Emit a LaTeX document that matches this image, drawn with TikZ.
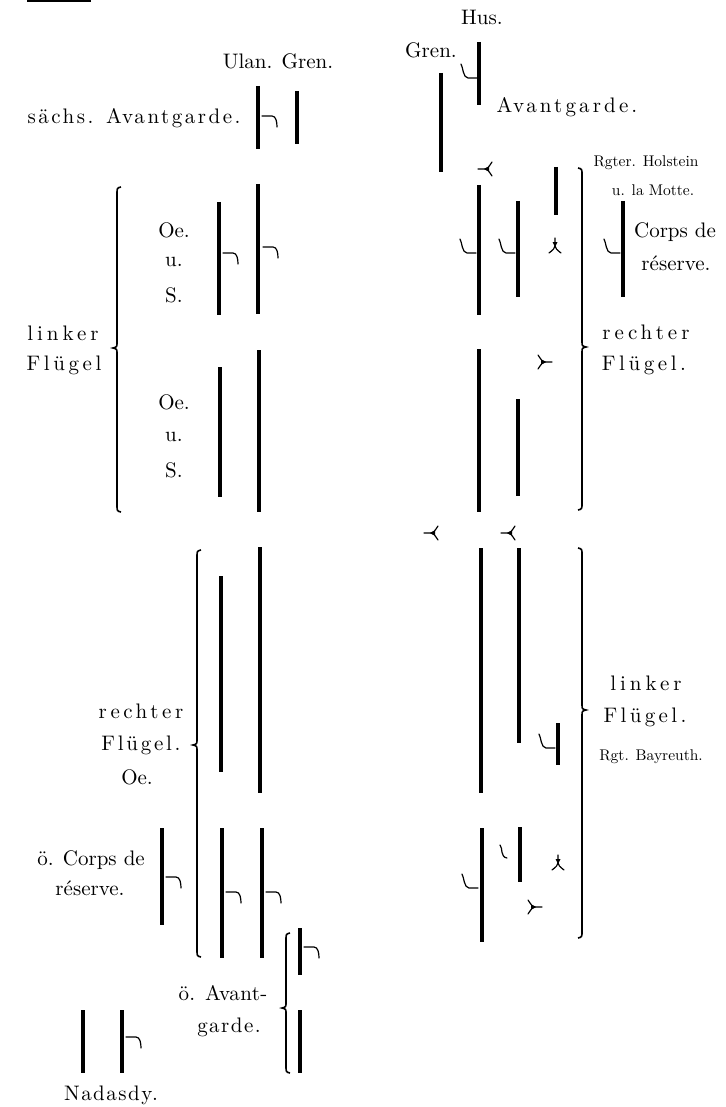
\documentclass[tikz,border=0pt]{standalone}
\usepackage{fontspec}
\setmainfont{lmroman10-regular.otf}
% letter-spaced text: #1 = extra spacing (1/100 em), #2 = text
\newcommand{\spaced}[2]{{\addfontfeature{LetterSpace=#1}#2}}
% a body of troops: vertical bar at x=#1 from y=#2 to y=#3
\newcommand{\troop}[3]{\draw[unitbar] (#1,#2) -- (#1,#3);}
% cavalry hook to the right of a bar, starting at (#1,#2)
\newcommand{\hookR}[2]{\draw[hookline] (#1,#2) -- ++(10,0) .. controls +(4,0) and +(0,-5) .. ++(5,11);}
% cavalry hook to the left of a bar, ending at (#1,#2)
\newcommand{\hookL}[2]{\draw[hookline] (#1-16,#2-14) .. controls +(2,3) and +(-5,0) .. (#1-9,#2) -- (#1,#2);}
% fletch marks, vertex at (#1,#2)
\newcommand{\fletchL}[2]{%
  \draw[hookline] (#1-7,#2) -- (#1,#2) .. controls (#1+3,#2-1) .. (#1+7,#2-7);
  \draw[hookline] (#1,#2) .. controls (#1+3,#2+1) .. (#1+7,#2+7);
  \fill (#1-1,#2) -- (#1+4,#2-2.5) -- (#1+4,#2+2.5) -- cycle;}
\newcommand{\fletchR}[2]{%
  \draw[hookline] (#1+7,#2) -- (#1,#2) .. controls (#1-3,#2-1) .. (#1-7,#2-7);
  \draw[hookline] (#1,#2) .. controls (#1-3,#2+1) .. (#1-7,#2+7);
  \fill (#1+1,#2) -- (#1-4,#2-2.5) -- (#1-4,#2+2.5) -- cycle;}
\newcommand{\fletchU}[2]{%
  \draw[hookline] (#1,#2-8) -- (#1,#2) .. controls (#1-1,#2+3) .. (#1-6,#2+7);
  \draw[hookline] (#1,#2) .. controls (#1+1,#2+3) .. (#1+6,#2+7);
  \fill (#1,#2+1) -- (#1-2.5,#2-4) -- (#1+2.5,#2-4) -- cycle;}
% braces: x, top, tip, bottom
\newcommand{\braceL}[4]{\draw[bracket] (#1+4,#2) .. controls (#1,#2+1) .. (#1,#2+7) -- (#1,#3-6)
  .. controls (#1,#3-1) .. (#1-4,#3) .. controls (#1,#3+1) .. (#1,#3+6) -- (#1,#4-7)
  .. controls (#1,#4-1) .. (#1+4,#4);}
\newcommand{\braceR}[4]{\draw[bracket] (#1-4,#2) .. controls (#1,#2+1) .. (#1,#2+7) -- (#1,#3-6)
  .. controls (#1,#3-1) .. (#1+4,#3) .. controls (#1,#3+1) .. (#1,#3+6) -- (#1,#4-7)
  .. controls (#1,#4-1) .. (#1-4,#4);}

\begin{document}
\begin{tikzpicture}[x=1pt,y=-1pt,
  unitbar/.style={line width=3.2pt, line cap=butt},
  bracket/.style={line width=1.6pt},
  hookline/.style={line width=1.2pt, line cap=round},
  lab/.style={inner sep=0pt, font=\fontsize{21}{24}\selectfont},
  slab/.style={inner sep=0pt, font=\fontsize{21}{24}\selectfont},
  small/.style={inner sep=0pt, font=\fontsize{15.5}{18}\selectfont}]
\useasboundingbox (0,0) rectangle (725,1107);
\fill (27,0) rectangle (91,2.5);

% ---------------- Saxon / Prussian side, upper part ----------------
\node[lab] (ulan) at (278,61) {Ulan. Gren.};
\node[slab] (saechs) at (134,118) {\spaced{12}{sächs. Avantgarde.}};
\troop{258}{86}{149} \troop{297}{91}{144}
\hookR{262}{116}

\node[lab] (hus) at (482,17) {Hus.};
\node[lab] (gren) at (431,50) {Gren.};
\node[slab] (avg) at (567,107) {\spaced{15}{Avantgarde.}};
\troop{479}{42}{105} \troop{441}{73}{172}
\hookL{477}{78}

\node[small] (holst) at (646,163) {Rgter. Holstein};
\node[small] (motte) at (653,190) {u. la Motte.};
\fletchL{485}{169}
\troop{556}{167}{215}

% left wing
\braceL{117}{187}{348}{512}
\node[slab] (lk1) at (63,333) {\spaced{19}{linker}};
\node[slab] (fl1) at (64,365) {\spaced{17}{Flügel}};
\node[lab] (oe1) at (174,230) {Oe.};
\node[lab] (u1) at (174,262) {u.};
\node[lab] (s1) at (174,295) {S.};
\troop{219}{202}{315} \troop{258}{184}{314}
\hookR{223}{253} \hookR{263}{247}
\node[lab] (oe2) at (174,402) {Oe.};
\node[lab] (u2) at (174,437) {u.};
\node[lab] (s2) at (174,470) {S.};
\troop{220}{367}{497} \troop{259}{350}{512}

% right wing
\braceR{582}{168}{347}{510}
\troop{479}{185}{315} \troop{518}{201}{297} \troop{623}{201}{297}
\hookL{476}{253} \hookL{515}{253} \hookL{620}{253}
\fletchU{555}{246}
\node[lab] (corps1) at (675,232) {Corps de};
\node[lab] (res1) at (676,263) {réserve.};
\node[slab] (re1) at (646,332) {\spaced{19}{rechter}};
\node[slab] (fl2) at (644,365) {\spaced{17}{Flügel.}};
\troop{479}{349}{512} \troop{518}{399}{496}
\fletchR{545}{362}

% ---------------- Austrian side, lower part ----------------
\fletchL{431}{533} \fletchL{508}{533}

\braceL{197}{550}{745}{957}
\node[slab] (re2) at (141,711) {\spaced{17}{rechter}};
\node[slab] (fl3) at (141,745) {\spaced{13}{Flügel.}};
\node[lab] (oe3) at (137,777) {Oe.};
\troop{221}{576}{772} \troop{260}{547}{793}

\braceR{582}{548}{710}{938}
\troop{481}{548}{793} \troop{519}{548}{743}
\troop{558}{723}{765}
\hookL{555}{748}
\node[slab] (lk2) at (646,683) {\spaced{19}{linker}};
\node[slab] (fl4) at (645,717) {\spaced{16}{Flügel.}};
\node[small] (bay) at (651,757) {Rgt. Bayreuth.};

\node[lab] (corps2) at (91,860) {ö. Corps de};
\node[lab] (res2) at (90,888) {réserve.};
\troop{162}{828}{925} \troop{222}{828}{958} \troop{262}{828}{958}
\hookR{166}{877} \hookR{226}{892} \hookR{266}{892}

\braceL{286}{933}{1008}{1073}
\troop{300}{928}{975} \troop{300}{1010}{1073}
\hookR{304}{947}
\node[slab] (oav) at (223,993) {\spaced{2}{ö. Avant-}};
\node[slab] (garde) at (229,1027) {\spaced{7}{garde.}};

\troop{83}{1010}{1073} \troop{122}{1010}{1073}
\hookR{126}{1037}
\node[slab] (nad) at (111,1095) {\spaced{7}{Nadasdy.}};

\troop{482}{828}{942} \troop{520}{827}{882}
\hookL{478}{888}
\draw[hookline] (500,845) .. controls (503,848) and (500,857) .. (507,858);
\fletchU{558}{863}
\fletchR{535}{907}
\end{tikzpicture}
\end{document}
